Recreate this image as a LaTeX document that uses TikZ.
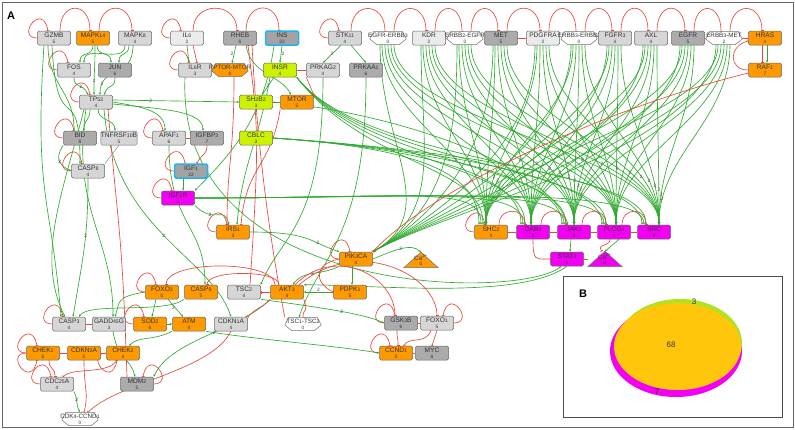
\documentclass[tikz,border=0pt]{standalone}
\usepackage{fontspec}
\setmainfont{Liberation Sans}
\usetikzlibrary{arrows.meta,calc}
\pgfdeclarelayer{bg}
\pgfsetlayers{bg,main}
\definecolor{gr}{HTML}{2FAA2F}
\definecolor{rd}{HTML}{E8453C}
\definecolor{org}{HTML}{FF9900}
\definecolor{lgr}{HTML}{D6D6D6}
\definecolor{vlg}{HTML}{EBEBEB}
\definecolor{dgr}{HTML}{ABABAB}
\definecolor{mag}{HTML}{F200F2}
\definecolor{yg}{HTML}{CCF200}
\definecolor{cybord}{HTML}{1EB4F0}
\definecolor{insg}{HTML}{A3A3A3}
\definecolor{vorg}{HTML}{FFC60B}
\definecolor{vgr}{HTML}{AEE320}
\newcommand\sdg[1]{{\fontsize{5.2}{5.2}\selectfont #1}}
\newcommand\nlab[2]{#1\\[-1.3pt]{\fontsize{4.8}{4.8}\selectfont #2}}
\tikzset{
 nb/.style={draw=black!60, rounded corners=1.5pt, minimum width=33pt, minimum height=14pt, inner sep=0pt, align=center, font=\fontsize{6.6}{7.2}\selectfont, text=black!80, line width=0.5pt},
 lgn/.style={nb, fill=lgr}, vlgn/.style={nb, fill=vlg}, dgn/.style={nb, fill=dgr},
 orn/.style={nb, fill=org}, mgn/.style={nb, fill=mag}, ygn/.style={nb, fill=yg},
 cynn/.style={nb, fill=insg, draw=cybord, line width=1.5pt},
 hlab/.style={font=\fontsize{6.3}{6.3}\selectfont, text=black!80, inner sep=0pt},
 hnum/.style={font=\fontsize{4.8}{4.8}\selectfont, text=black!80, inner sep=0pt},
 ge/.style={draw=gr, line width=0.65pt, -{Stealth[length=2.5pt,width=2.2pt]}},
 re/.style={draw=rd, line width=0.65pt, -{Bar[width=3pt,line width=0.6pt]}},
 rl/.style={draw=rd, line width=0.65pt},
 elab/.style={font=\fontsize{4.8}{4.8}\selectfont, text=black!75, inner sep=0.5pt},
}
\newcommand\hexn[6]{%
 \node[minimum width=36pt, minimum height=13pt, inner sep=0pt] (#1) at (#2,#3) {};
 \filldraw[fill=#6, draw=black!55, line width=0.5pt] ([xshift=4pt]#1.north west) -- ([xshift=-4pt]#1.north east) -- ([yshift=-1pt]#1.east) -- ([xshift=-7pt]#1.south east) -- ([xshift=7pt]#1.south west) -- ([yshift=-1pt]#1.west) -- cycle;
 \node[hlab] at ([yshift=3pt]#1.center) {#4};
 \node[hnum] at ([yshift=-3.5pt]#1.center) {#5};
}
\newcommand\trin[6]{%
 \node[minimum width=34pt, minimum height=15pt, inner sep=0pt] (#1) at (#2,#3) {};
 \filldraw[fill=#6, draw=black!55, line width=0.5pt] (#1.south west) -- (#1.north) -- (#1.south east) -- cycle;
 \node[hlab] at ([yshift=2.5pt]#1.center) {#4};
 \node[hnum] at ([yshift=-4pt]#1.center) {#5};
}
\newcommand\lpl[1]{\draw[re] (#1.west) .. controls +(-22,0) and +(-6,-30) .. ([xshift=-6pt]#1.north);}
\newcommand\lpr[1]{\draw[re] (#1.east) .. controls +(22,0) and +(6,-30) .. ([xshift=6pt]#1.north);}
\newcommand\lpb[1]{\draw[re] (#1.west) .. controls +(-22,0) and +(-6,30) .. ([xshift=-6pt]#1.south);}
\begin{document}
\begin{tikzpicture}[x=1pt,y=-1pt]
\useasboundingbox (0,0) rectangle (795,429);
\draw[black!60, line width=0.8pt] (2,2) rectangle (793,427);
\node[font=\bfseries\fontsize{11}{11}\selectfont] (Alab) at (11,16) {A};
% row 1
\node[lgn] (GZMB) at (54,38) {\nlab{GZMB}{5}};
\node[orn] (MAPK14) at (93,38) {\nlab{MAPK\sdg{14}}{5}};
\node[lgn] (MAPK8) at (135,38) {\nlab{MAPK\sdg{8}}{4}};
\node[vlgn] (IL6) at (187,38) {\nlab{IL\sdg{6}}{2}};
\node[dgn] (RHEB) at (240,38) {\nlab{RHEB}{6}};
\node[cynn] (INS) at (282,38) {\nlab{INS}{22}};
\node[lgn] (STK11) at (345,38) {\nlab{STK\sdg{11}}{4}};
\hexn{EE3}{388}{38}{EGFR-ERBB\sdg{3}}{0}{white}
\node[vlgn] (KDR) at (429,38) {\nlab{KDR}{2}};
\hexn{E2E}{465}{38}{ERBB\sdg{2}-EGFR}{0}{white}
\node[dgn] (MET) at (501,38) {\nlab{MET}{5}};
\node[vlgn] (PDGFRA) at (543,38) {\nlab{PDGFRA}{2}};
\hexn{E3E2}{579}{38}{ERBB\sdg{3}-ERBB\sdg{2}}{0}{white}
\node[lgn] (FGFR3) at (615,38) {\nlab{FGFR\sdg{3}}{4}};
\node[lgn] (AXL) at (651,38) {\nlab{AXL}{4}};
\node[dgn] (EGFR) at (688,38) {\nlab{EGFR}{5}};
\hexn{E3M}{724}{38}{ERBB\sdg{3}-MET}{2}{white}
\node[orn] (HRAS) at (765,38) {\nlab{HRAS}{4}};
\node[orn] (RAF1) at (765,70) {\nlab{RAF\sdg{1}}{7}};
% row 2
\node[lgn] (FOS) at (74,70) {\nlab{FOS}{4}};
\node[dgn] (JUN) at (115,70) {\nlab{JUN}{6}};
\node[lgn] (IL6R) at (195,70) {\nlab{IL\sdg{6}R}{3}};
\hexn{RPTOR}{230}{70}{RPTOR-MTOR}{0}{org}
\node[ygn] (INSR) at (280,70) {\nlab{INSR}{4}};
\node[lgn] (PRKAG2) at (323,70) {\nlab{PRKAG\sdg{2}}{4}};
\node[dgn] (PRKAA1) at (366,70) {\nlab{PRKAA\sdg{1}}{6}};
% row 3
\node[lgn] (TP53) at (96,102) {\nlab{TP\sdg{53}}{4}};
\node[ygn] (SH2B2) at (256,102) {\nlab{SH\sdg{2}B\sdg{2}}{3}};
\node[orn] (MTOR) at (297,102) {\nlab{MTOR}{5}};
% row 4
\node[dgn] (BID) at (80,138) {\nlab{BID}{8}};
\node[lgn] (TNFRSF10B) at (119,138) {\nlab{TNFRSF\sdg{10}B}{5}};
\node[lgn] (APAF1) at (169,138) {\nlab{APAF\sdg{1}}{6}};
\node[dgn] (IGFBP3) at (207,138) {\nlab{IGFBP\sdg{3}}{7}};
\node[ygn] (CBLC) at (256,138) {\nlab{CBLC}{3}};
% row 5
\node[lgn] (CASP8) at (88,171) {\nlab{CASP\sdg{8}}{4}};
\node[cynn] (IGF1) at (191,171) {\nlab{IGF\sdg{1}}{22}};
\node[mgn] (IGF1R) at (178,198) {\nlab{IGF\sdg{1}R}{3}};
\node[orn] (IRS1) at (233,232) {\nlab{IRS\sdg{1}}{3}};
% targets
\node[orn] (SHC2) at (491,232) {\nlab{SHC\sdg{2}}{3}};
\node[mgn] (GAB1) at (533,232) {\nlab{GAB\sdg{1}}{3}};
\node[mgn] (JAK1) at (574,232) {\nlab{JAK\sdg{1}}{4}};
\node[mgn] (PLCG1) at (614,232) {\nlab{PLCG\sdg{1}}{4}};
\node[mgn] (SRC) at (654,232) {\nlab{SRC}{4}};
\node[mgn] (STAT3) at (567,259) {\nlab{STAT\sdg{3}}{6}};
\trin{CA2}{605}{259}{Ca\textsuperscript{2+}}{0}{mag}
% lower
\node[orn] (PIK3CA) at (356,259) {\nlab{PIK\sdg{3}CA}{4}};
\trin{CA1}{421}{260}{Ca\textsuperscript{2+}}{0}{org}
\node[orn] (PDPK1) at (350,292) {\nlab{PDPK\sdg{1}}{5}};
\node[orn] (FOXO3) at (162,292) {\nlab{FOXO\sdg{3}}{0}};
\node[orn] (CASP9) at (201,292) {\nlab{CASP\sdg{9}}{5}};
\node[lgn] (TSC2) at (244,292) {\nlab{TSC\sdg{2}}{4}};
\node[orn] (AKT3) at (287,292) {\nlab{AKT\sdg{3}}{4}};
\node[lgn] (CASP3) at (69,324) {\nlab{CASP\sdg{3}}{4}};
\node[lgn] (GADD45G) at (109,324) {\nlab{GADD\sdg{45}G}{3}};
\node[orn] (SOD2) at (150,324) {\nlab{SOD\sdg{2}}{6}};
\node[orn] (ATM) at (189,324) {\nlab{ATM}{4}};
\node[lgn] (CDKN1A) at (231,324) {\nlab{CDKN\sdg{1}A}{4}};
\hexn{TSC}{303}{324}{TSC\sdg{1}-TSC\sdg{2}}{0}{white}
\node[dgn] (GSK3B) at (401,323) {\nlab{GSK\sdg{3}B}{6}};
\node[lgn] (FOXO1) at (437,323) {\nlab{FOXO\sdg{1}}{5}};
\node[orn] (CHEK1) at (43,353) {\nlab{CHEK\sdg{1}}{6}};
\node[orn] (CDKN2A) at (84,353) {\nlab{CDKN\sdg{2}A}{5}};
\node[orn] (CHEK2) at (123,353) {\nlab{CHEK\sdg{2}}{4}};
\node[orn] (CCND1) at (396,353) {\nlab{CCND\sdg{1}}{3}};
\node[dgn] (MYC) at (432,353) {\nlab{MYC}{8}};
\node[lgn] (CDC25A) at (57,384) {\nlab{CDC\sdg{25}A}{4}};
\node[dgn] (MDM2) at (137,384) {\nlab{MDM\sdg{2}}{5}};
\hexn{CDK}{80}{419}{CDK\sdg{4}-CCND\sdg{1}}{0}{white}

\begin{pgfonlayer}{bg}
% top arches
\foreach \a/\b in {GZMB/MAPK14, MAPK14/MAPK8, IL6/RHEB, RHEB/INS, STK11/EE3, EE3/KDR, KDR/E2E, E2E/MET, MET/PDGFRA, PDGFRA/E3E2, E3E2/FGFR3, FGFR3/AXL, AXL/EGFR, EGFR/E3M, E3M/HRAS}
 \draw[re] ([xshift=6pt]\a.north) .. controls +(0,-30) and +(0,-30) .. ([xshift=-3pt]\b.north);
\foreach \a/\b in {KDR/E2E, MET/PDGFRA, EGFR/E3M, E3M/HRAS, IL6R/RPTOR, INSR/PRKAG2, SH2B2/MTOR, APAF1/IGFBP3}
 \draw[rl] (\a.east) -- (\b.west);
% loops
\lpl{GZMB} \lpl{IL6} \lpl{STK11} \lpl{FOS} \lpl{TP53} \lpl{BID} \lpl{APAF1} \lpl{CASP8}
\lpl{IGF1} \lpl{IGF1R} \lpl{IRS1} \lpl{SHC2} \lpl{PIK3CA} \lpl{FOXO3} \lpl{CASP3} \lpl{CHEK1}
\lpl{CDC25A} \lpr{MDM2} \lpl{CCND1} \lpl{GSK3B} \lpr{FOXO1} \lpl{IL6R} \lpl{SOD2} \lpb{CHEK1} \lpb{CHEK2}
% receptor bundles
\foreach \r [count=\i] in {EE3,KDR,E2E,MET,PDGFRA,E3E2,FGFR3,AXL,EGFR,E3M}{
 \pgfmathsetmacro\pp{0.62+0.025*\i}
 \foreach \t/\o/\p/\l in {SHC2/-6/-5/2, GAB1/-3/-2/, JAK1/0/0/2, PLCG1/3/2/, SRC/6/5/2}{
  \draw[ge] ([xshift=\o pt]\r.south) .. controls +(0,75) and +(0,-70) .. ([xshift=\p pt]\t.north) node[elab,pos=\pp]{\l};
 }
 \draw[ge] ([xshift=-8pt]\r.south) .. controls +(0,100) and +(70,-40) .. (PIK3CA.north east);
}
\foreach \t in {SHC2,GAB1,JAK1,PLCG1,SRC}{
 \draw[ge] (IGF1R.east) .. controls +(220,0) and +(0,-40) .. ([xshift=-10pt]\t.north);
 \draw[ge] (INSR.south east) .. controls +(70,90) and +(0,-60) .. ([xshift=-8pt]\t.north);
 \draw[ge] (CBLC.east) .. controls +(150,10) and +(0,-50) .. ([xshift=-12pt]\t.north);
}
% target cluster
\foreach \a/\b in {SHC2/GAB1, GAB1/JAK1, JAK1/PLCG1, PLCG1/SRC}{
 \draw[re] ([xshift=8pt]\a.north) .. controls +(0,-18) and +(0,-18) .. ([xshift=-8pt]\b.north);
 \draw[rl] (\a.east) -- (\b.west);
}
\draw[ge] ([xshift=-3pt]JAK1.south) -- ([xshift=3pt]STAT3.north);
\draw[ge] ([xshift=5pt]PLCG1.south) -- (CA2.north);
\draw[re] ([xshift=-4pt]PLCG1.south) .. controls +(0,8) and +(-6,-8) .. ([xshift=-3pt]CA2.north);
\draw[rl] (STAT3.east) -- (CA2.west);
\draw[re] (GAB1.south) .. controls +(0,22) and +(-15,0) .. (STAT3.west);
\draw[ge] (STAT3.south) .. controls (520,300) and (380,285) .. (AKT3.north east);
% left cluster green
\draw[ge] ([xshift=-6pt]GZMB.south) .. controls +(0,40) and +(0,-40) .. ([xshift=-6pt]BID.north);
\draw[ge] ([xshift=-10pt]GZMB.south) .. controls +(-10,150) and +(-10,-120) .. ([xshift=-8pt]CASP3.north);
\draw[ge] ([xshift=-2pt]GZMB.south) .. controls +(5,100) and +(0,-90) .. ([xshift=-8pt]CASP8.north);
\draw[ge] (MAPK14.south) .. controls +(0,12) and +(0,-12) .. ([xshift=6pt]FOS.north);
\draw[ge] ([xshift=4pt]MAPK14.south) .. controls +(0,12) and +(0,-12) .. ([xshift=-4pt]JUN.north);
\draw[ge] ([xshift=2pt]MAPK14.south) .. controls +(0,30) and +(0,-30) .. ([xshift=-2pt]TP53.north) node[elab,pos=0.8]{2};
\draw[ge] ([xshift=-6pt]MAPK8.south) .. controls +(0,12) and +(0,-12) .. ([xshift=4pt]JUN.north);
\draw[ge] ([xshift=-10pt]MAPK8.south) .. controls +(0,20) and +(0,-20) .. ([xshift=10pt]FOS.north);
\draw[ge] ([xshift=-2pt]MAPK8.south) .. controls +(0,35) and +(0,-30) .. ([xshift=4pt]TP53.north) node[elab,pos=0.85]{2};
\draw[ge] (FOS.south) .. controls +(0,12) and +(-5,-12) .. ([xshift=-8pt]TP53.north) node[elab,pos=0.6]{2};
\draw[ge] (JUN.south) .. controls +(0,12) and +(5,-12) .. ([xshift=8pt]TP53.north);
\draw[ge] ([xshift=-6pt]TP53.south) .. controls +(0,12) and +(0,-12) .. ([xshift=4pt]BID.north);
\draw[ge] ([xshift=2pt]TP53.south) .. controls +(0,12) and +(0,-12) .. ([xshift=-4pt]TNFRSF10B.north);
\draw[ge] (TP53.east) .. controls +(30,5) and +(0,-20) .. ([xshift=-4pt]APAF1.north);
\draw[ge] ([yshift=-2pt]TP53.east) .. controls +(50,5) and +(0,-20) .. ([xshift=-4pt]IGFBP3.north);
\draw[ge] ([yshift=2pt]TP53.east) -- (SH2B2.west) node[elab,pos=0.3]{2};
\draw[ge] ([xshift=-10pt]TP53.south) .. controls +(-15,100) and +(0,-80) .. ([xshift=4pt]GADD45G.north);
\draw[ge] ([xshift=8pt]TP53.south) .. controls +(10,120) and +(-20,-60) .. (CDKN1A.north) node[elab,pos=0.5]{2};
\draw[ge] ([xshift=-12pt]TP53.south) .. controls +(-20,80) and +(-30,-60) .. ([xshift=-4pt]CASP3.north);
\draw[ge] (BID.south west) .. controls +(-10,15) and +(-10,-5) .. (CASP8.west) node[elab,pos=0.5]{2};
\draw[ge] (CASP8.south) .. controls +(0,60) and +(10,-60) .. ([xshift=4pt]CASP3.north) node[elab,pos=0.4]{2};
\draw[black!45, line width=0.5pt] (TNFRSF10B.south) -- (CASP8.north east);
\draw[ge] (APAF1.south) .. controls +(0,80) and +(0,-60) .. ([xshift=4pt]CASP9.north);
\draw[ge] (CASP9.south west) .. controls +(-20,15) and +(10,-15) .. ([xshift=10pt]CASP3.north);
% insulin / IGF
\draw[re] (IGFBP3.south) .. controls +(0,10) and +(5,-10) .. ([xshift=6pt]IGF1.north);
\draw[ge] ([xshift=-8pt]IGF1.south) -- ([xshift=5pt]IGF1R.north);
\draw[ge] (IGF1R.south east) .. controls +(20,20) and +(-5,-20) .. ([xshift=-4pt]IRS1.north) node[elab,pos=0.3]{2};
\draw[ge] (IRS1.east) .. controls +(60,0) and +(-30,-10) .. (PIK3CA.north west) node[elab,pos=0.7]{2};
\draw[ge] (IL6.south) -- ([xshift=-6pt]IL6R.north);
\draw[re] ([xshift=6pt]IL6.south) -- ([xshift=2pt]IL6R.north);
\draw[ge] ([xshift=-10pt]IL6R.south) .. controls (175,300) and (520,300) .. ([xshift=-6pt]STAT3.south);
\draw[ge] (INS.south) -- (INSR.north) node[elab,midway,right]{2};
\draw[ge] ([xshift=-8pt]INS.south) .. controls +(-10,70) and +(40,-40) .. (IGF1R.north east);
\draw[ge] ([xshift=-6pt]INSR.south) -- ([xshift=6pt]SH2B2.north) node[elab,midway]{2};
\draw[ge] ([xshift=-10pt]INSR.south) .. controls +(-10,60) and +(5,-60) .. ([xshift=4pt]IRS1.north);
\draw[ge] ([xshift=-4pt]RHEB.south) -- ([xshift=2pt]RPTOR.north) node[elab,midway,left]{2};
\draw[ge] ([xshift=6pt]RHEB.south) .. controls +(5,30) and +(-10,-20) .. ([xshift=-6pt]MTOR.north);
\draw[ge] ([xshift=-4pt]STK11.south) -- (PRKAG2.north) node[elab,midway]{2};
\draw[ge] ([xshift=6pt]STK11.south) -- (PRKAA1.north);
\draw[re] (PRKAG2.south west) -- (MTOR.north east);
\draw[ge] (PRKAG2.south) .. controls +(0,150) and +(20,-50) .. (TSC2.north east);
\draw[ge] (PRKAA1.south) .. controls +(0,160) and +(20,-60) .. ([xshift=-4pt]TSC.north);
\draw[re] ([xshift=4pt]RPTOR.south) .. controls +(0,80) and +(0,-60) .. ([xshift=-6pt]IRS1.north);
\draw[re] (MTOR.south west) .. controls +(-10,60) and +(5,-60) .. ([xshift=8pt]IRS1.north);
\draw[re] ([xshift=6pt]TSC2.north) .. controls +(10,-150) and +(10,80) .. ([xshift=8pt]RHEB.south);
\draw[re] (TSC.north west) .. controls (262,200) and (255,100) .. ([xshift=12pt]RHEB.south);
\draw[ge] (SH2B2.east) .. controls +(120,10) and +(-20,-60) .. ([xshift=-6pt]JAK1.north);
% PI3K / AKT
\draw[ge] ([xshift=-4pt]PIK3CA.south) -- ([xshift=2pt]PDPK1.north);
\draw[ge] (PIK3CA.south west) .. controls +(-20,10) and +(10,-15) .. ([xshift=6pt]AKT3.north) node[elab,pos=0.5]{2};
\draw[ge] (PDPK1.west) -- (AKT3.east) node[elab,midway,above]{2};
\draw[ge] (PIK3CA.east) .. controls +(20,-8) and +(-10,-10) .. (CA1.north) node[elab,pos=0.5]{2};
\draw[re] (PIK3CA.west) .. controls +(-25,5) and +(-20,-10) .. (PDPK1.west);
\draw[ge] (AKT3.south west) .. controls (240,330) and (170,340) .. (MDM2.north east);
\draw[ge] (TSC2.south east) .. controls (300,305) and (360,312) .. (GSK3B.west) node[elab,pos=0.6]{2};
\draw[ge] (ATM.south east) .. controls (260,340) and (330,345) .. (CCND1.west) node[elab,pos=0.05]{2};
\draw[re] (AKT3.west) -- (TSC2.east);
\draw[re] ([xshift=-8pt]AKT3.north) .. controls +(0,-15) and +(0,-15) .. ([xshift=6pt]CASP9.north);
\draw[re] ([xshift=-12pt]AKT3.north) .. controls +(0,-25) and +(0,-25) .. ([xshift=4pt]FOXO3.north);
\draw[re] ([xshift=8pt]AKT3.north) .. controls +(40,-40) and +(0,-40) .. ([xshift=-6pt]GSK3B.north);
\draw[re] ([xshift=12pt]AKT3.north) .. controls +(60,-50) and +(0,-40) .. (FOXO1.north);
\draw[re] (AKT3.south east) .. controls +(5,15) and +(0,-10) .. (TSC.north);
\draw[re] (AKT3.south west) .. controls +(-10,10) and +(10,-10) .. (CDKN1A.north east);
\draw[re] ([xshift=-4pt]GSK3B.south) .. controls +(0,10) and +(0,-10) .. ([xshift=2pt]CCND1.north);
\draw[re] ([xshift=-6pt]FOXO1.south) .. controls +(-5,15) and +(5,-10) .. ([xshift=8pt]CCND1.north);
\draw[re] (FOXO1.south) -- (MYC.north);
\draw[rl] (GSK3B.east) -- (FOXO1.west);
\draw[rl] (CCND1.east) -- (MYC.west);
% FOXO3 / DNA damage
\draw[ge] ([xshift=-6pt]FOXO3.south) -- ([xshift=2pt]SOD2.north);
\draw[ge] (FOXO3.west) .. controls +(-30,5) and +(5,-15) .. ([xshift=6pt]GADD45G.north);
\draw[ge] ([xshift=6pt]FOXO3.south) -- ([xshift=-6pt]ATM.north) node[elab,midway,left]{2};
\draw[ge] (ATM.south west) .. controls +(-20,10) and +(10,-10) .. ([xshift=6pt]CHEK2.north);
\draw[ge] ([xshift=4pt]GADD45G.south) .. controls +(5,30) and +(-5,-20) .. ([xshift=-2pt]MDM2.north);
\draw[ge] (CDC25A.south east) .. controls +(5,10) and +(-5,-10) .. (CDK.north) node[elab,pos=0.4]{2};
\draw[re] ([xshift=6pt]CHEK1.south) .. controls +(0,10) and +(0,-10) .. ([xshift=-2pt]CDC25A.north);
\draw[re] ([xshift=-6pt]CHEK2.south) .. controls +(-10,15) and +(10,-10) .. ([xshift=6pt]CDC25A.north);
\draw[re] (CDKN2A.south) .. controls +(0,30) and +(5,-20) .. ([xshift=4pt]CDK.north);
\draw[re] (CDKN1A.south) .. controls +(-20,40) and +(30,-30) .. ([xshift=8pt]CDK.north);
\draw[re] ([xshift=-10pt]MDM2.north) .. controls +(-5,-150) and +(10,120) .. ([xshift=12pt]TP53.south);
\draw[rl] (CASP3.east) -- (GADD45G.west);
\draw[rl] (CHEK1.east) -- (CDKN2A.west);
\draw[rl] (CDKN2A.east) -- (CHEK2.west);
\draw[ge] (SOD2.east) -- (ATM.west);
% Ras / Raf
\draw[ge] ([xshift=2pt]HRAS.south) -- ([xshift=2pt]RAF1.north);
\draw[re] ([xshift=-3pt]HRAS.south) -- ([xshift=-3pt]RAF1.north);
\draw[re] (RAF1.west) .. controls +(-20,0) and +(-20,5) .. ([yshift=-3pt]HRAS.west);
\draw[re] ([yshift=-3pt]RAF1.west) .. controls (600,110) and (430,190) .. (PIK3CA.north east);
\end{pgfonlayer}

% panel B
\node[draw=black!70, line width=0.8pt, fill=white, minimum width=219pt, minimum height=141pt, inner sep=0pt] (PB) at (672.5,346.5) {};
\node[font=\bfseries\fontsize{11}{11}\selectfont] (Blab) at (583,294) {B};
\fill[mag] (676,351) ellipse [x radius=66pt, y radius=46pt];
\fill[vgr] (680,343) ellipse [x radius=62pt, y radius=44pt];
\fill[vorg] (677.5,346.5) ellipse [x radius=63.5pt, y radius=43.5pt];
\node[font=\fontsize{8}{8}\selectfont, text=black!80] (V3) at (694,302) {3};
\node[font=\fontsize{8}{8}\selectfont, text=black!80] (V68) at (671,345) {68};
\node[font=\fontsize{8}{8}\selectfont, text=black!80] (V7) at (657,392) {7};
\end{tikzpicture}
\end{document}
